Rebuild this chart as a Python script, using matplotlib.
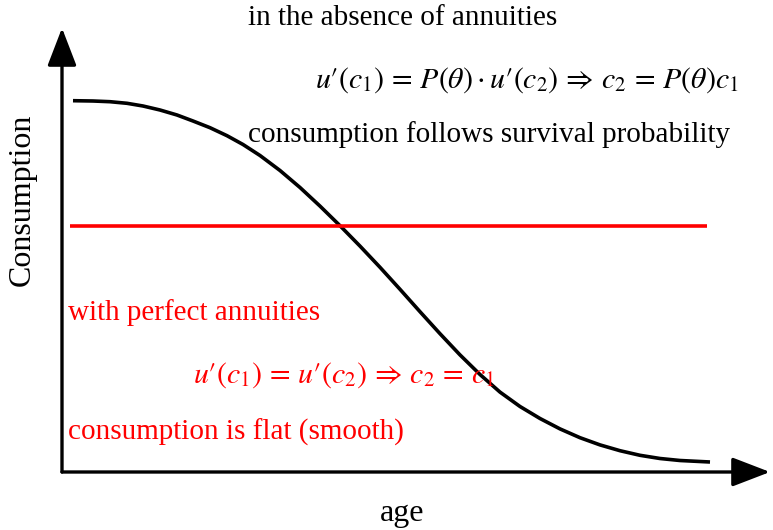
import matplotlib
matplotlib.use("Agg")
import matplotlib.pyplot as plt
from matplotlib.patches import FancyArrowPatch

plt.rcParams['font.family'] = ['Liberation Serif', 'DejaVu Serif']
plt.rcParams['mathtext.fontset'] = 'stix'

# consumption path without annuities
age_pts = [11, 31, 48, 65, 81, 98, 115, 131, 148, 165, 181, 198, 218, 238, 258, 278, 298,
           318, 338, 358, 378, 398, 418, 438, 458, 478, 498, 518, 538, 558, 578, 598, 618, 648]
cons_pts = [371.3, 371, 370.3, 368.7, 366, 362, 357, 351, 344.3, 336.3, 327.5, 316.5, 301.5,
            284.5, 265.9, 246.3, 225.9, 204.7, 182.7, 160.3, 138.3, 117.1, 97.5, 79.9, 65.5,
            53.5, 43.1, 34.3, 27.1, 21.3, 16.7, 13.5, 11.5, 10]

# consumption path with perfect annuities
flat_age = [8, 645]
flat_cons = [246, 246]

W, H = 773, 530
fig = plt.figure(figsize=(W / 100, H / 100), dpi=100)
ax = fig.add_axes([62 / W, 58 / H, 708 / W, 444 / H])
ax.set_xlim(0, 708)
ax.set_ylim(0, 444)
ax.axis('off')

# axes with arrow heads
for end in [(708, 0), (0, 444)]:
    arr = FancyArrowPatch((0, 0), end, arrowstyle='-|>,head_length=1.3,head_width=0.5',
                          mutation_scale=18, lw=2.4, color='black',
                          shrinkA=0, shrinkB=0, clip_on=False)
    ax.add_patch(arr)

ax.plot(age_pts, cons_pts, color='black', lw=2.6, solid_capstyle='butt', solid_joinstyle='round')
ax.plot(flat_age, flat_cons, color='red', lw=2.6, solid_capstyle='butt')


def px_text(x, y, s, **kw):
    fig.text(x / W, 1 - y / H, s, va='center', **kw)


fs = 21
mfs = 21.5
px_text(248, 18, 'in the absence of annuities', fontsize=fs)
px_text(315, 80, "$u′(c_1) \\,=\\, P(\\theta)\\cdot u′(c_2) \\,\\Rightarrow\\, c_2 \\,=\\, P(\\theta)c_1$",
        fontsize=mfs)
px_text(248, 135, 'consumption follows survival probability', fontsize=fs)

px_text(68, 313, 'with perfect annuities', fontsize=fs, color='red')
px_text(193, 375, "$u′(c_1) \\,=\\, u′(c_2) \\,\\Rightarrow\\, c_2 \\,=\\, c_1$", fontsize=mfs, color='red')
px_text(68, 432, 'consumption is flat (smooth)', fontsize=fs, color='red')

fig.text(22 / W, 1 - 200 / H, 'Consumption', rotation=90, ha='center', va='center', fontsize=23)
fig.text(402 / W, 1 - 514 / H, 'age', ha='center', va='center', fontsize=23)

fig.savefig('out.png', dpi=100)
